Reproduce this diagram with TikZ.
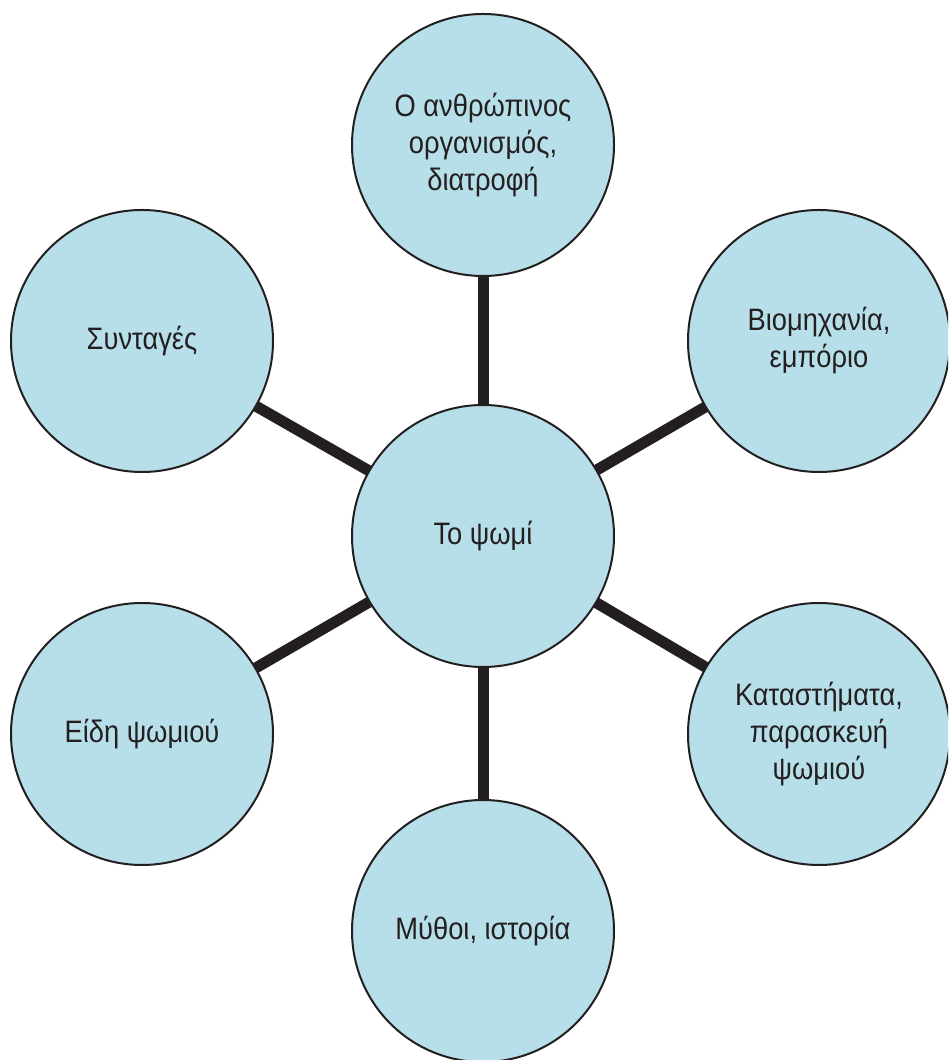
\documentclass[tikz,border=0pt]{standalone}
\usepackage{fontspec}
\setmainfont{Liberation Sans}[FakeStretch=0.88]
\usepackage{xcolor}
\usepackage{tikz}
\usetikzlibrary{backgrounds}
\definecolor{bubblefill}{RGB}{183,223,233}
\definecolor{inkdark}{RGB}{35,31,32}

\begin{document}
\begin{tikzpicture}[x=1pt, y=1pt]
  \tikzset{
    bubble/.style={circle, draw=inkdark, line width=2pt, fill=bubblefill,
      minimum size=262pt, inner sep=0pt, align=center,
      font=\fontsize{31}{37}\selectfont, text=inkdark},
    spoke/.style={draw=inkdark, line width=11pt}
  }

  \def\xl{142}  \def\xm{483}  \def\xr{819}
  \def\yu{719}  \def\yl{326}

  \clip (0,0) rectangle (948,1060);

  % centre and the six topics
  \node[bubble] (bread) at (\xm,524) {Το ψωμί};
  \node[bubble] (body) at (\xm,915) {Ο ανθρώπινος\\οργανισμός,\\διατροφή};
  \node[bubble] (industry) at (\xr,\yu) {Βιομηχανία,\\εμπόριο};
  \node[bubble] (shops) at (\xr,\yl) {Καταστήματα,\\παρασκευή\\ψωμιού};
  \node[bubble] (myths) at (\xm,129) {Μύθοι, ιστορία};
  \node[bubble] (kinds) at (\xl,\yl) {Είδη ψωμιού};
  \node[bubble] (recipes) at (\xl,\yu) {Συνταγές};

  % spokes behind the circles
  \begin{scope}[on background layer]
    \foreach \leaf in {body,industry,shops,myths,kinds,recipes}
      \draw[spoke] (bread.center) -- (\leaf.center);
  \end{scope}
\end{tikzpicture}
\end{document}
